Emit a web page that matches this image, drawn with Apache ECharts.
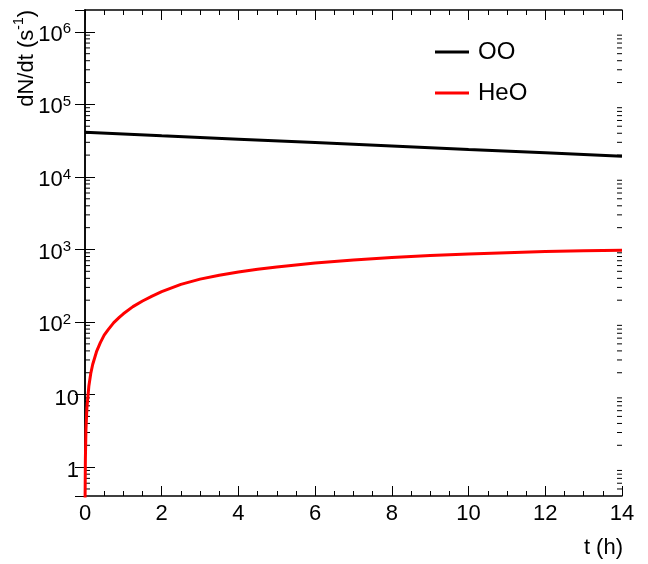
<!DOCTYPE html>
<html>
<head>
<meta charset="utf-8">
<script src="https://cdn.jsdelivr.net/npm/echarts@6/dist/echarts.min.js"></script>
<style>
  html, body { margin: 0; padding: 0; background: #fff; }
  #main { width: 648px; height: 564px; }
</style>
</head>
<body>
<div id="main"></div>
<script>
// time (h) and rates
var ooTime = [0, 2, 4, 6, 8, 10, 12, 14];
var ooRate = [41300, 37000, 33200, 29800, 26700, 23900, 21500, 19300];

var heoTime = [0, 0.003, 0.01, 0.025, 0.05, 0.1, 0.15, 0.2, 0.3, 0.4, 0.5, 0.6, 0.75, 0.9, 1.0, 1.25,
  1.5, 1.75, 2.0, 2.5, 3.0, 3.5, 4.0, 4.5, 5.0, 6.0, 7.0, 8.0, 9.0, 10.0, 11.0, 12.0, 13.0, 14.0];
var heoRate = [0.1, 0.4, 1.3, 3.3, 6.6, 13, 19.5, 26, 39, 52, 66, 78, 98, 117, 130, 163,
  195, 228, 262, 330, 390, 442, 490, 535, 575, 650, 715, 775, 825, 868, 905, 935, 958, 978];

var yMin = 0.4, yMax = 2e6;
var xMin = 0, xMax = 14;

// log minor ticks 2..9 of every decade inside the range
var yMinorTicks = [];
for (var e = -1; e <= 6; e++) {
  for (var m = 2; m <= 9; m++) {
    var v = m * Math.pow(10, e);
    if (v > yMin && v < yMax) yMinorTicks.push([0, v]);
  }
}

function pairs(xs, ys) {
  return xs.map(function (x, i) { return [x, ys[i]]; });
}

var font = 'Liberation Sans, Arial, Helvetica, sans-serif';

function yLabel(v) {
  var l = Math.log10(v);
  var e = Math.round(l);
  if (Math.abs(l - e) > 1e-6) return '';
  if (e === 0) return '{p|1}';
  if (e === 1) return '{p|10}';
  return '{b|10}{s|' + e + '}';
}

var tickStyle = { color: '#000', width: 1 };
var axisLine = { show: true, lineStyle: { color: '#000', width: 1.5 } };

var chart = echarts.init(document.getElementById('main'));
chart.setOption({
  animation: false,
  backgroundColor: '#fff',
  grid: { left: 85, right: 26, top: 10, bottom: 68 },
  legend: {
    orient: 'vertical',
    left: 435,
    top: 40,
    padding: 0,
    icon: 'rect',
    itemWidth: 34,
    itemHeight: 3,
    itemGap: 17,
    selectedMode: false,
    textStyle: { fontSize: 24, color: '#000', fontFamily: font, padding: [0, 0, 0, 4] },
    data: ['OO', 'HeO']
  },
  xAxis: [{
    type: 'value',
    min: xMin, max: xMax, interval: 2,
    axisLine: axisLine,
    axisTick: { inside: true, length: 10, lineStyle: tickStyle },
    minorTick: { show: true, splitNumber: 4, length: 5, lineStyle: tickStyle },
    axisLabel: { color: '#000', fontSize: 22, fontFamily: font, margin: 7 },
    splitLine: { show: false }
  }, {
    type: 'value',
    position: 'top',
    min: xMin, max: xMax, interval: 2,
    axisLine: axisLine,
    axisTick: { inside: true, length: 10, lineStyle: tickStyle },
    minorTick: { show: true, splitNumber: 4, length: 5, lineStyle: tickStyle },
    axisLabel: { show: false },
    splitLine: { show: false }
  }],
  yAxis: [{
    type: 'log',
    logBase: 10,
    min: yMin, max: yMax,
    axisLine: axisLine,
    axisTick: { inside: true, length: 10, lineStyle: tickStyle },
    axisLabel: {
      color: '#000', fontFamily: font, margin: 6,
      showMinLabel: false, showMaxLabel: false,
      formatter: yLabel,
      rich: {
        p: { fontSize: 22, fontFamily: font, color: '#000', height: 22, padding: [8, 0, 0, 0] },
        b: { fontSize: 22, fontFamily: font, color: '#000', height: 22, lineHeight: 22, verticalAlign: 'bottom' },
        s: { fontSize: 15, fontFamily: font, color: '#000', height: 15, padding: [4, 8, 9, 0], verticalAlign: 'top' }
      }
    },
    splitLine: { show: false }
  }, {
    type: 'log',
    logBase: 10,
    position: 'right',
    min: yMin, max: yMax,
    axisLine: axisLine,
    axisTick: { inside: true, length: 10, lineStyle: tickStyle },
    axisLabel: { show: false },
    splitLine: { show: false }
  }],
  graphic: [{
    type: 'text',
    x: 38, y: 10,
    rotation: Math.PI / 2,
    style: {
      text: '{a|dN/dt (s}{s|-1}{a|)}',
      align: 'right',
      verticalAlign: 'bottom',
      rich: {
        a: { fontSize: 22, fontFamily: font, fill: '#000', height: 22, lineHeight: 22, verticalAlign: 'bottom' },
        s: { fontSize: 14, fontFamily: font, fill: '#000', height: 14, padding: [0, 0, 12, 0], verticalAlign: 'top' }
      }
    }
  }, {
    type: 'text',
    x: 623, y: 548,
    style: {
      text: 't (h)',
      align: 'right',
      verticalAlign: 'middle',
      fontSize: 22,
      fontFamily: font,
      fill: '#000'
    }
  }],
  series: [{
    name: 'OO',
    type: 'line',
    data: pairs(ooTime, ooRate),
    symbol: 'none',
    color: '#000',
    lineStyle: { color: '#000', width: 3 }
  }, {
    name: 'HeO',
    type: 'line',
    data: pairs(heoTime, heoRate),
    symbol: 'none',
    color: '#ff0000',
    lineStyle: { color: '#ff0000', width: 3 }
  }, {
    type: 'custom',
    silent: true,
    clip: false,
    data: yMinorTicks,
    renderItem: function (params, api) {
      var cs = params.coordSys;
      var y = api.coord([0, api.value(1)])[1];
      var st = { stroke: '#000', lineWidth: 1 };
      return {
        type: 'group',
        children: [
          { type: 'line', shape: { x1: cs.x, y1: y, x2: cs.x + 5, y2: y }, style: st },
          { type: 'line', shape: { x1: cs.x + cs.width, y1: y, x2: cs.x + cs.width - 5, y2: y }, style: st }
        ]
      };
    }
  }]
});
</script>
</body>
</html>
